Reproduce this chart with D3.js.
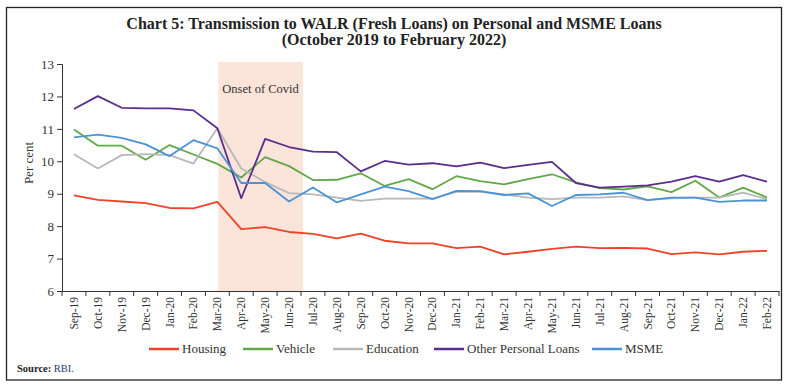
<!DOCTYPE html>
<html>
<head>
<meta charset="utf-8">
<script src="https://cdn.jsdelivr.net/npm/d3@7"></script>
<style>
  body { margin: 0; background: #fff; }
  svg { display: block; font-family: "Liberation Serif", "DejaVu Serif", serif; }
</style>
</head>
<body>
<div id="chart"></div>
<script>
// months on the x axis
const months = ["Sep-19","Oct-19","Nov-19","Dec-19","Jan-20","Feb-20","Mar-20","Apr-20","May-20","Jun-20",
  "Jul-20","Aug-20","Sep-20","Oct-20","Nov-20","Dec-20","Jan-21","Feb-21","Mar-21","Apr-21",
  "May-21","Jun-21","Jul-21","Aug-21","Sep-21","Oct-21","Nov-21","Dec-21","Jan-22","Feb-22"];

const housing = [8.95,8.81,8.76,8.71,8.56,8.55,8.75,7.91,7.97,7.82,
  7.76,7.62,7.77,7.55,7.47,7.47,7.32,7.37,7.13,7.21,
  7.30,7.37,7.32,7.33,7.31,7.14,7.19,7.13,7.21,7.24];
const vehicle = [10.98,10.48,10.48,10.05,10.50,10.21,9.92,9.50,10.13,9.85,
  9.42,9.43,9.63,9.24,9.45,9.14,9.54,9.39,9.29,9.45,
  9.60,9.35,9.17,9.13,9.23,9.05,9.40,8.88,9.19,8.88];
const education = [10.22,9.78,10.19,10.22,10.19,9.93,11.02,9.78,9.36,9.02,
  8.98,8.88,8.78,8.85,8.85,8.85,9.06,9.06,8.98,8.88,
  8.83,8.88,8.88,8.92,8.80,8.86,8.88,8.88,9.03,8.83];
const otherPersonal = [11.61,12.01,11.65,11.63,11.63,11.57,11.02,8.86,10.69,10.44,
  10.30,10.28,9.69,10.01,9.90,9.94,9.84,9.96,9.79,9.89,
  9.98,9.33,9.19,9.22,9.26,9.37,9.54,9.37,9.57,9.37];
const msme = [10.74,10.82,10.72,10.52,10.16,10.65,10.40,9.33,9.33,8.76,
  9.19,8.73,8.98,9.22,9.08,8.83,9.09,9.08,8.96,9.01,
  8.62,8.96,8.98,9.03,8.80,8.88,8.88,8.75,8.79,8.79];

const seriesNames = ["Housing","Vehicle","Education","Other Personal Loans","MSME"];
const seriesValues = [housing, vehicle, education, otherPersonal, msme];
const seriesColors = ["#ef4328","#62a84a","#b8b8b8","#5a2d8c","#4b92d6"];
const yTicks = [6,7,8,9,10,11,12,13];
const covidStart = "Mar-20", covidEnd = "Jul-20";

const W = 788, H = 387;
const margin = {top: 64, right: 9, bottom: 96, left: 62};

const svg = d3.select("#chart").append("svg")
  .attr("width", W).attr("height", H);

// outer frame
svg.append("rect")
  .attr("x", 6.5).attr("y", 7.5).attr("width", 775).attr("height", 372.5)
  .attr("fill", "none").attr("stroke", "#222").attr("stroke-width", 1.3);

// title
svg.append("text").attr("x", 394).attr("y", 29).attr("text-anchor", "middle")
  .attr("font-size", 16).attr("font-weight", "bold").attr("fill", "#222")
  .text("Chart 5: Transmission to WALR (Fresh Loans) on Personal and MSME Loans");
svg.append("text").attr("x", 394).attr("y", 45).attr("text-anchor", "middle")
  .attr("font-size", 16).attr("font-weight", "bold").attr("fill", "#222")
  .text("(October 2019 to February 2022)");

const x = d3.scaleBand().domain(months).range([margin.left, W - margin.right]).padding(0);
const y = d3.scaleLinear().domain([6, 13]).range([H - margin.bottom, margin.top]);
const cx = d => x(d) + x.bandwidth() / 2;

// covid shading
svg.append("rect")
  .attr("x", cx(covidStart) + 1)
  .attr("y", y(13) - 2)
  .attr("width", x(covidEnd) + 2 - cx(covidStart) - 1)
  .attr("height", y(6) - y(13) + 2)
  .attr("fill", "#fbe4d9");
svg.append("text")
  .attr("x", cx(covidStart) + 5).attr("y", 93)
  .attr("font-size", 12.5).attr("fill", "#333")
  .text("Onset of Covid");

// y axis
const yAxis = svg.append("g")
  .attr("transform", "translate(" + margin.left + ",0)")
  .call(d3.axisLeft(y).tickValues(yTicks).tickFormat(d3.format("d")).tickSize(5).tickPadding(3));
yAxis.select(".domain").attr("stroke", "#333");
yAxis.selectAll(".tick line").attr("stroke", "#333");
yAxis.selectAll("text").attr("font-size", 13).attr("fill", "#333")
  .attr("font-family", "Liberation Serif, serif");

svg.append("text")
  .attr("transform", "translate(33,163) rotate(-90)")
  .attr("text-anchor", "middle").attr("font-size", 13).attr("fill", "#333")
  .text("Per cent");

// x axis: labels at band centres, ticks at band edges
const xAxis = svg.append("g")
  .attr("transform", "translate(0," + y(6) + ")")
  .call(d3.axisBottom(x).tickSize(0).tickPadding(6));
xAxis.select(".domain").attr("stroke", "#333");
xAxis.selectAll("text")
  .attr("font-size", 11.5).attr("fill", "#333")
  .attr("font-family", "Liberation Serif, serif")
  .attr("transform", "rotate(-90)")
  .attr("text-anchor", "end")
  .attr("x", -6).attr("y", 0).attr("dy", "0.35em");
const edges = months.map(m => x(m)).concat([x(months[months.length - 1]) + x.bandwidth()]);
xAxis.selectAll(".edge").data(edges).join("line")
  .attr("class", "edge")
  .attr("x1", d => d).attr("x2", d => d)
  .attr("y1", 0).attr("y2", 5)
  .attr("stroke", "#333");

// lines
const line = d3.line()
  .x((d, i) => cx(months[i]))
  .y(d => y(d));

seriesValues.forEach(function(vals, k) {
  svg.append("path")
    .datum(vals)
    .attr("fill", "none")
    .attr("stroke", seriesColors[k])
    .attr("stroke-width", 1.8)
    .attr("stroke-linejoin", "round")
    .attr("d", line);
});

// legend
const legendX = [149, 243, 333, 434, 592];
const legend = svg.append("g");
seriesNames.forEach(function(name, k) {
  legend.append("line")
    .attr("x1", legendX[k]).attr("x2", legendX[k] + 30)
    .attr("y1", 349).attr("y2", 349)
    .attr("stroke", seriesColors[k]).attr("stroke-width", 2.5);
  legend.append("text")
    .attr("x", legendX[k] + 33).attr("y", 353)
    .attr("font-size", 13).attr("fill", "#333")
    .text(name);
});

// source
const src = svg.append("text").attr("x", 17).attr("y", 372).attr("font-size", 10.5);
src.append("tspan").attr("font-weight", "bold").attr("fill", "#222").text("Source:");
src.append("tspan").attr("fill", "#1f3a6e").text(" RBI.");
</script>
</body>
</html>
